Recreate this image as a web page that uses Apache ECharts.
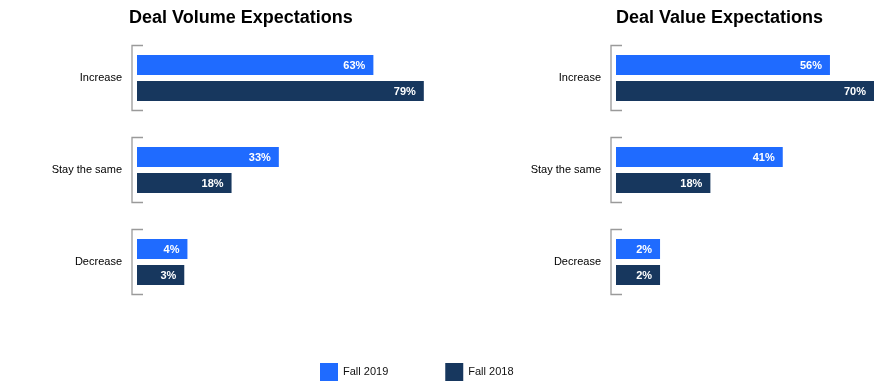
<!DOCTYPE html>
<html>
<head>
<meta charset="utf-8">
<script src="https://cdn.jsdelivr.net/npm/echarts@6/dist/echarts.min.js"></script>
<style>
html,body{margin:0;padding:0;background:#fff;}
#c{width:875px;height:386px;}
</style>
</head>
<body>
<div id="c"></div>
<script>
// ---- data ----
var categories = ['Increase', 'Stay the same', 'Decrease'];
var volumeFall2019 = [63, 33, 4];
var volumeFall2018 = [79, 18, 3];
var valueFall2019 = [56, 41, 2];
var valueFall2018 = [70, 18, 2];
var seriesNames = ['Fall 2019', 'Fall 2018'];
var titles = ['Deal Volume Expectations', 'Deal Value Expectations'];

// ---- styling ----
var FONT = '"Liberation Sans", Arial, Helvetica, sans-serif';
var COLORS = ['#1f6bff', '#17375e'];
var AXIS_MIN = -12;
var AXIS_MAX = [100, 70];
var BAR_H = 20, BAR_GAP = 6;

function toData(arr) { return arr.map(function (v, i) { return [i, v]; }); }

function barRender(pos) {
  return function (params, api) {
    var cat = api.value(0), v = api.value(1);
    var s = api.coord([AXIS_MIN, cat]);
    var e = api.coord([v, cat]);
    var cy = s[1];
    var top = pos === 0 ? cy - BAR_GAP / 2 - BAR_H : cy + BAR_GAP / 2;
    return {
      type: 'group',
      children: [{
        type: 'rect',
        shape: { x: s[0], y: top, width: e[0] - s[0], height: BAR_H },
        style: { fill: COLORS[pos] }
      }, {
        type: 'text',
        style: {
          text: v + '%', x: e[0] - 8, y: top + BAR_H / 2 + 0.5,
          align: 'right', verticalAlign: 'middle',
          fill: '#fff', font: 'bold 11px ' + FONT
        }
      }]
    };
  };
}

function bracketRender(params, api) {
  var cat = api.value(0);
  var s = api.coord([AXIS_MIN, cat]);
  var x = s[0] - 5, h = 32.5;
  return {
    type: 'polyline',
    shape: { points: [[x + 11, s[1] - h], [x, s[1] - h], [x, s[1] + h], [x + 11, s[1] + h]] },
    style: { stroke: '#9a9a9a', lineWidth: 1.3, fill: null }
  };
}

function barSeries(name, pos, gi, arr) {
  return {
    type: 'custom', name: name, xAxisIndex: gi, yAxisIndex: gi,
    itemStyle: { color: COLORS[pos] },
    encode: { x: 1, y: 0 },
    renderItem: barRender(pos),
    data: toData(arr), clip: false, silent: true
  };
}

function bracketSeries(gi) {
  return {
    type: 'custom', name: 'bracket' + gi, xAxisIndex: gi, yAxisIndex: gi,
    encode: { x: 1, y: 0 },
    renderItem: bracketRender, clip: false, silent: true,
    data: categories.map(function (c, i) { return [i, 0]; })
  };
}

var chart = echarts.init(document.getElementById('c'), null, { renderer: 'canvas' });
chart.setOption({
  animation: false,
  textStyle: { fontFamily: FONT },
  title: [
    { text: titles[0], left: 129, top: 9, padding: 0, textStyle: { fontSize: 18, fontWeight: 'bold', color: '#000', fontFamily: FONT } },
    { text: titles[1], left: 616, top: 9, padding: 0, textStyle: { fontSize: 18, fontWeight: 'bold', color: '#000', fontFamily: FONT } }
  ],
  legend: {
    data: seriesNames, left: 320, top: 363, padding: 0, itemWidth: 18, itemHeight: 18, itemGap: 57,
    icon: 'rect', textStyle: { fontSize: 11, color: '#111', fontFamily: FONT }, selectedMode: false
  },
  grid: [
    { left: 137, top: 32, width: 353, height: 276 },
    { left: 616, top: 32, width: 258, height: 276 }
  ],
  xAxis: [0, 1].map(function (gi) {
    return { type: 'value', gridIndex: gi, min: AXIS_MIN, max: AXIS_MAX[gi], show: false };
  }),
  yAxis: [0, 1].map(function (gi) {
    return {
      type: 'category', gridIndex: gi, data: categories, inverse: true,
      axisLine: { show: false }, axisTick: { show: false }, splitLine: { show: false },
      axisLabel: { fontSize: 11, color: '#000', margin: 15, fontFamily: FONT }
    };
  }),
  series: [
    bracketSeries(0), bracketSeries(1),
    barSeries(seriesNames[0], 0, 0, volumeFall2019),
    barSeries(seriesNames[1], 1, 0, volumeFall2018),
    barSeries(seriesNames[0], 0, 1, valueFall2019),
    barSeries(seriesNames[1], 1, 1, valueFall2018)
  ]
});
</script>
</body>
</html>
